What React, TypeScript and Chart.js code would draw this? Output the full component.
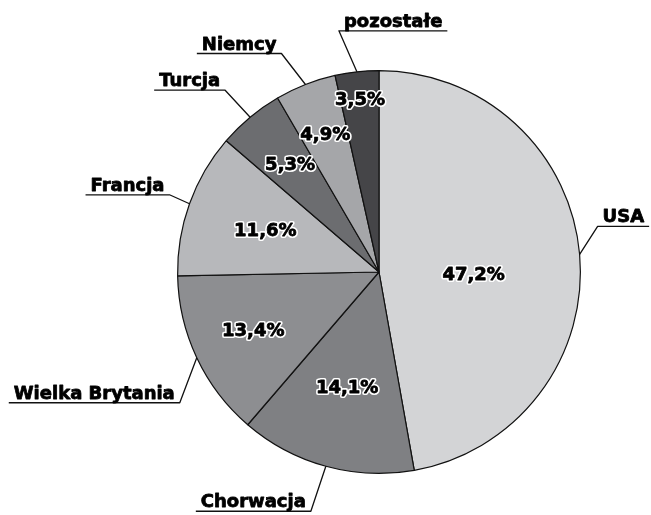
import React, { useEffect, useRef } from "react";
import { Chart, registerables } from "chart.js";
Chart.register(...registerables);

const categories = ["USA", "Chorwacja", "Wielka Brytania", "Francja", "Turcja", "Niemcy", "pozostałe"];
const shares = [47.2, 14.1, 13.4, 11.6, 5.3, 4.9, 3.5];
const valueLabels = ["47,2%", "14,1%", "13,4%", "11,6%", "5,3%", "4,9%", "3,5%"];
const sliceColors = ["#d3d4d6", "#7f8083", "#8d8e91", "#b7b8bb", "#6c6d70", "#a5a6a9", "#454548"];

// layout (not data): radial position / angle shift of inner labels, leader elbow offsets, underline direction
const valueLabelRadius = [0.47, 0.6, 0.69, 0.6, 0.69, 0.73, 0.86];
const valueLabelAngleShift = [7, 0, 0, 0, 0, 0, 0];
const leaderElbow = [[18, -28], [-15, 45], [-17, 45], [-20, -9], [-25, -27], [-24, -31], [-18, -41]];
const underlineSide = [1, -1, -1, -1, -1, -1, 1];

const labelPlugin = {
  id: "pieLabels",
  afterDatasetsDraw(chart: any) {
    const ctx = chart.ctx;
    const meta = chart.getDatasetMeta(0);
    ctx.save();
    meta.data.forEach((arc: any, i: number) => {
      const p = arc.getProps(["x", "y", "startAngle", "endAngle", "outerRadius"], true);
      const mid = (p.startAngle + p.endAngle) / 2;
      const R = p.outerRadius;
      // inner value label
      const la = mid + (valueLabelAngleShift[i] * Math.PI) / 180;
      const lx = p.x + Math.cos(la) * R * valueLabelRadius[i];
      const ly = p.y + Math.sin(la) * R * valueLabelRadius[i];
      ctx.font = "bold 18px 'DejaVu Sans'";
      ctx.textAlign = "center";
      ctx.textBaseline = "middle";
      ctx.lineJoin = "round";
      ctx.lineWidth = 4;
      ctx.strokeStyle = "#ffffff";
      ctx.strokeText(valueLabels[i], lx, ly);
      ctx.fillStyle = "#000000";
      ctx.fillText(valueLabels[i], lx, ly);
      ctx.lineWidth = 0.8;
      ctx.strokeStyle = "#000000";
      ctx.strokeText(valueLabels[i], lx, ly);
      // leader + category label
      const ax = p.x + Math.cos(mid) * R;
      const ay = p.y + Math.sin(mid) * R;
      const ex = ax + leaderElbow[i][0];
      const ey = ay + leaderElbow[i][1];
      ctx.font = "bold 18px 'DejaVu Sans'";
      const w = ctx.measureText(categories[i]).width + 10;
      const ux = ex + underlineSide[i] * w;
      ctx.strokeStyle = "#111111";
      ctx.lineWidth = 1.3;
      ctx.beginPath();
      ctx.moveTo(ax, ay);
      ctx.lineTo(ex, ey);
      ctx.lineTo(ux, ey);
      ctx.stroke();
      ctx.textAlign = "center";
      ctx.textBaseline = "alphabetic";
      ctx.fillStyle = "#000000";
      ctx.fillText(categories[i], (ex + ux) / 2, ey - 4);
      ctx.lineWidth = 0.8;
      ctx.strokeStyle = "#000000";
      ctx.strokeText(categories[i], (ex + ux) / 2, ey - 4);
    });
    ctx.restore();
  },
};

export default function App() {
  const ref = useRef<HTMLCanvasElement | null>(null);
  useEffect(() => {
    document.body.style.margin = "0";
    const chart = new Chart(ref.current as HTMLCanvasElement, {
      type: "pie",
      data: {
        labels: categories,
        datasets: [
          {
            data: shares,
            backgroundColor: sliceColors,
            borderColor: "#111111",
            borderWidth: 1.2,
          },
        ],
      },
      options: {
        responsive: false,
        animation: false,
        layout: { padding: { left: 160, right: 53, top: 70, bottom: 41 } },
        plugins: { legend: { display: false }, tooltip: { enabled: false } },
      },
      plugins: [labelPlugin],
    });
    return () => chart.destroy();
  }, []);
  return <canvas ref={ref} width={651} height={515} style={{ display: "block" }} />;
}
